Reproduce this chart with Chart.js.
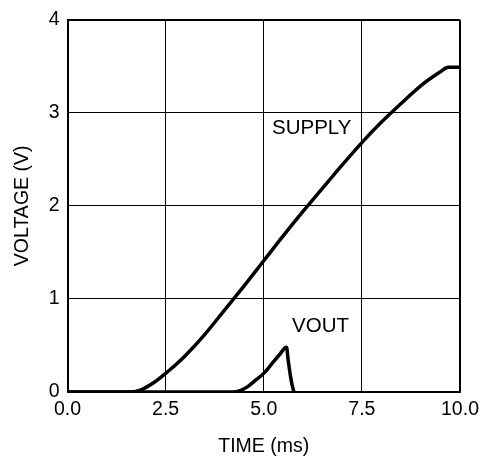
<!DOCTYPE html>
<html>
<head>
<meta charset="utf-8">
<script src="https://cdn.jsdelivr.net/npm/chart.js@4/dist/chart.umd.min.js"></script>
<style>
  html, body { margin: 0; padding: 0; background: #fff; }
  #wrap { width: 487px; height: 462px; position: relative; }
</style>
</head>
<body>
<div id="wrap"><canvas id="voltChart"></canvas></div>
<script>
// values
const supplyTime  = [0, 1.0, 1.65, 1.85, 2.0, 2.25, 2.5, 2.75, 3.0, 3.5, 4.0, 4.5, 5.0, 5.5, 6.0, 6.5, 7.0, 7.5, 8.0, 8.5, 9.0, 9.5, 9.7, 10.0];
const supplyVolts = [0, 0, 0, 0.02, 0.05, 0.115, 0.2, 0.29, 0.39, 0.62, 0.88, 1.14, 1.41, 1.68, 1.94, 2.19, 2.44, 2.68, 2.9, 3.1, 3.29, 3.44, 3.49, 3.49];
const voutTime  = [0, 4.2, 4.4, 4.6, 4.8, 5.0, 5.2, 5.4, 5.58, 5.62, 5.67, 5.72, 5.77];
const voutVolts = [0, 0, 0.015, 0.06, 0.13, 0.2, 0.3, 0.4, 0.48, 0.35, 0.2, 0.08, 0];

const xTicks = [0, 2.5, 5.0, 7.5, 10.0];
const yTicks = [0, 1, 2, 3, 4];

// curve names written inside the plot
const curveLabels = [
  { text: 'SUPPLY', x: 5.21, y: 2.83 },
  { text: 'VOUT', x: 5.72, y: 0.71 }
];

const FONT = 'Liberation Sans, Arial, Helvetica, sans-serif';

const toPoints = (xs, ys) => xs.map((x, i) => ({ x: x, y: ys[i] }));

// draws the text labels at data coordinates
const curveLabelPlugin = {
  id: 'curveLabels',
  afterDatasetsDraw(chart) {
    const { ctx, scales } = chart;
    ctx.save();
    ctx.fillStyle = '#000';
    ctx.font = '20.5px ' + FONT;
    ctx.textAlign = 'left';
    ctx.textBaseline = 'middle';
    curveLabels.forEach(l => {
      ctx.fillText(l.text, scales.x.getPixelForValue(l.x), scales.y.getPixelForValue(l.y));
    });
    ctx.restore();
  }
};

const ctx = document.getElementById('voltChart').getContext('2d');
new Chart(ctx, {
  type: 'line',
  data: {
    datasets: [
      {
        label: 'SUPPLY',
        data: toPoints(supplyTime, supplyVolts),
        borderColor: '#000',
        borderWidth: 3.5,
        pointRadius: 0,
        cubicInterpolationMode: 'monotone',
        fill: false
      },
      {
        label: 'VOUT',
        data: toPoints(voutTime, voutVolts),
        borderColor: '#000',
        borderWidth: 3.5,
        pointRadius: 0,
        cubicInterpolationMode: 'monotone',
        fill: false
      }
    ]
  },
  options: {
    responsive: true,
    maintainAspectRatio: false,
    animation: false,
    layout: { padding: { top: 14, right: 27, left: 0, bottom: 0 } },
    plugins: {
      legend: { display: false },
      tooltip: { enabled: false }
    },
    scales: {
      x: {
        type: 'linear',
        min: 0,
        max: 10,
        afterFit: s => { s.height = 70; },
        afterBuildTicks: s => { s.ticks = xTicks.map(v => ({ value: v })); },
        ticks: {
          color: '#000',
          padding: 6,
          maxRotation: 0,
          font: { family: FONT, size: 19.5 },
          callback: v => Number(v).toFixed(1)
        },
        grid: {
          color: '#000',
          drawTicks: false,
          lineWidth: c => (c.tick && c.tick.value === 10 ? 2 : 1)
        },
        border: { display: true, color: '#000', width: 2 },
        title: {
          display: true,
          text: 'TIME (ms)',
          color: '#000',
          font: { family: FONT, size: 19.5 },
          padding: { top: 4, bottom: 4 }
        }
      },
      y: {
        type: 'linear',
        min: 0,
        max: 4,
        afterFit: s => { s.width = 67.5; },
        afterBuildTicks: s => { s.ticks = yTicks.map(v => ({ value: v })); },
        ticks: {
          color: '#000',
          padding: 8,
          font: { family: FONT, size: 19.5 },
          callback: v => String(v)
        },
        grid: {
          color: '#000',
          drawTicks: false,
          lineWidth: c => (c.tick && c.tick.value === 4 ? 2 : 1)
        },
        border: { display: true, color: '#000', width: 2 },
        title: {
          display: true,
          text: 'VOLTAGE (V)',
          color: '#000',
          font: { family: FONT, size: 19.5 },
          padding: { top: 11, bottom: 4 }
        }
      }
    }
  },
  plugins: [curveLabelPlugin]
});
</script>
</body>
</html>
